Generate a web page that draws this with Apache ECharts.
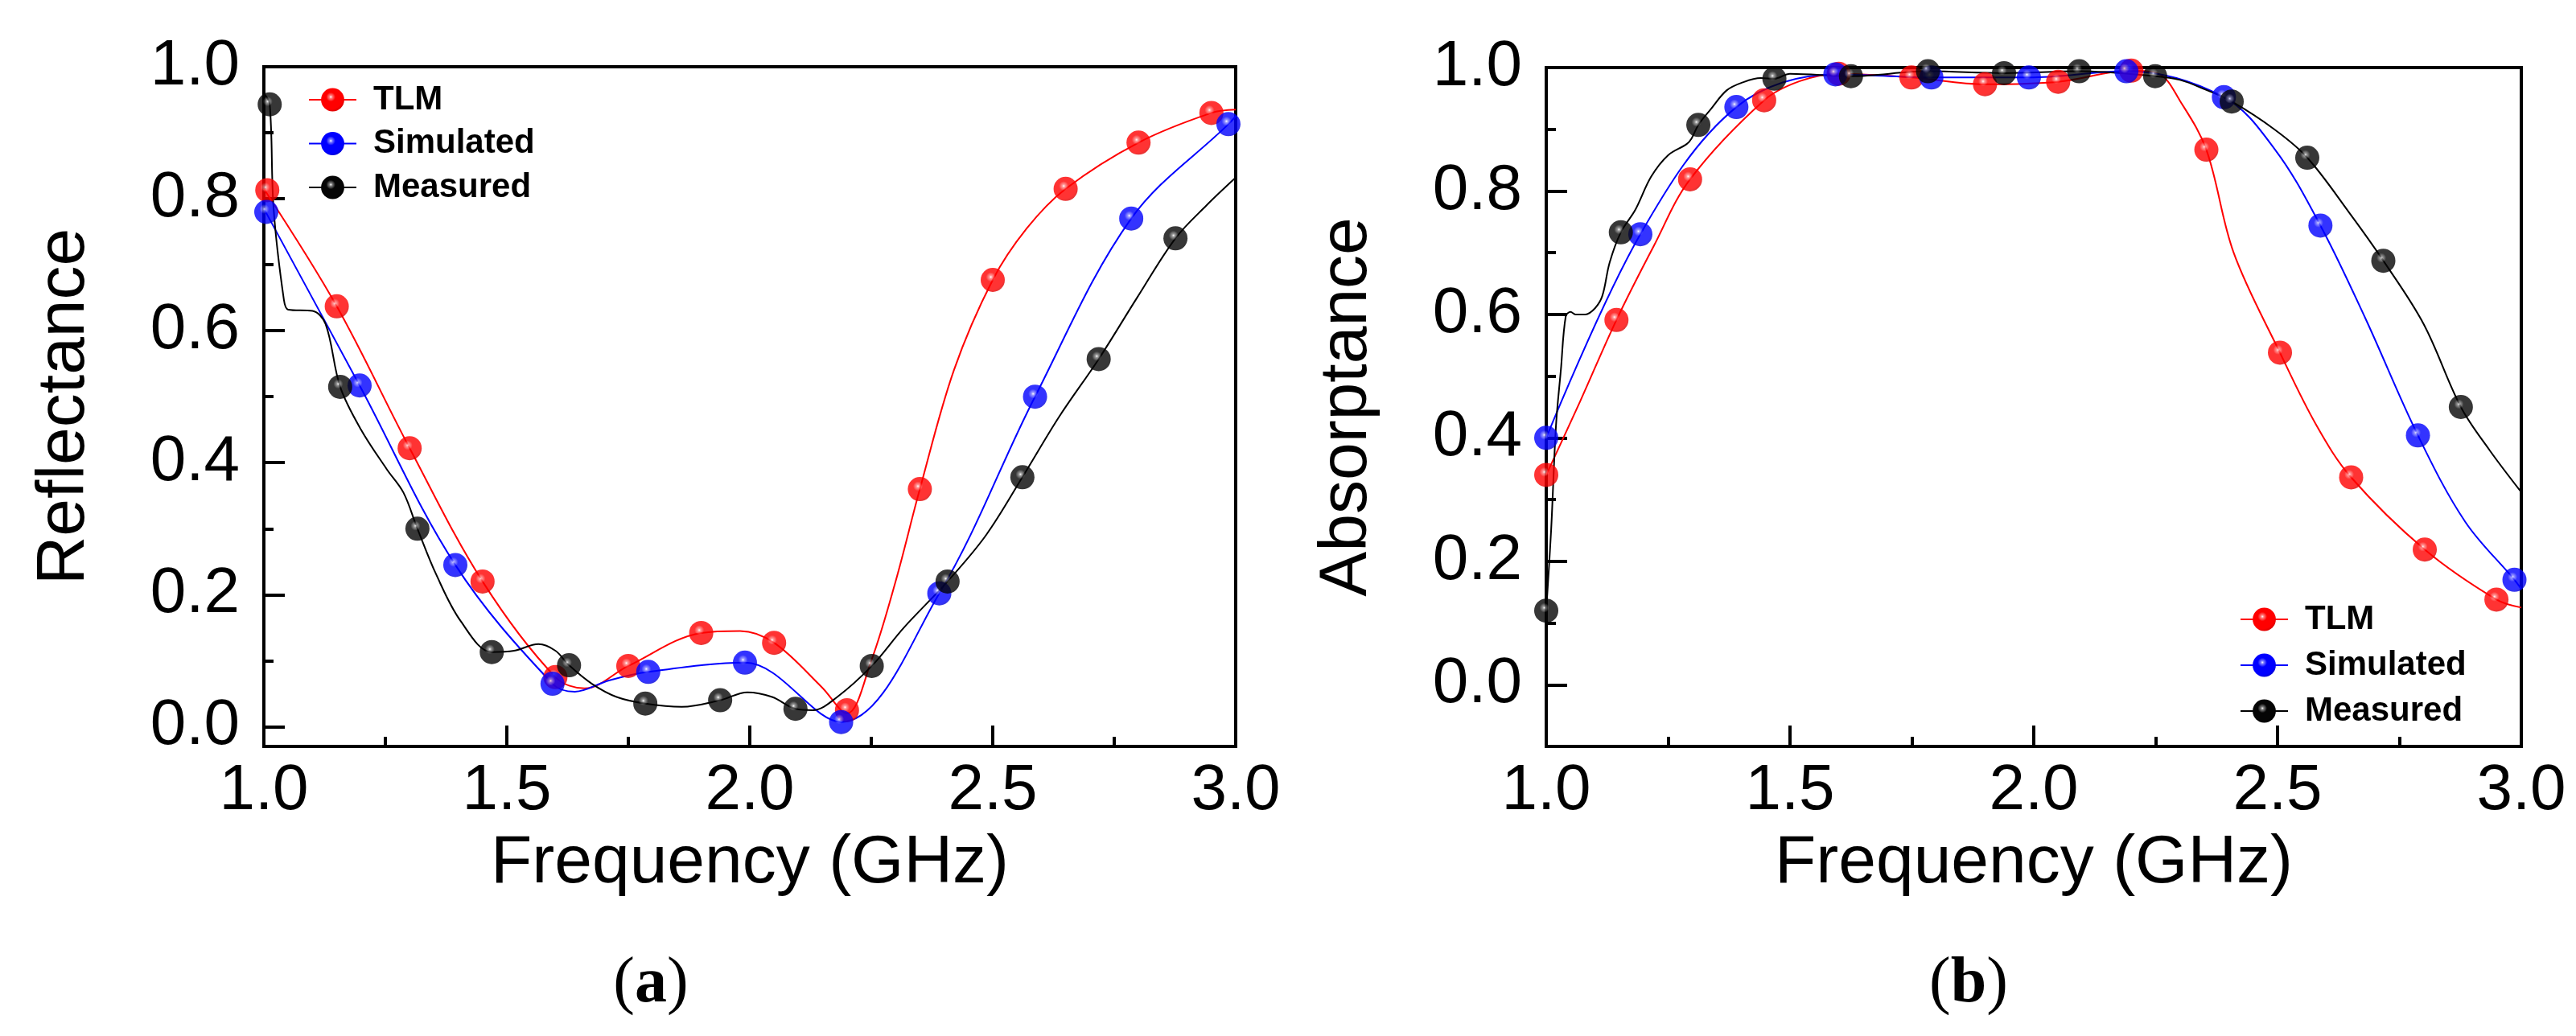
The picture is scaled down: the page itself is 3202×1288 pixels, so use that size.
<!DOCTYPE html>
<html>
<head>
<meta charset="utf-8">
<script src="https://cdn.jsdelivr.net/npm/echarts@6/dist/echarts.min.js"></script>
<style>
  html, body { margin: 0; padding: 0; background: #fff; }
  #chart { width: 3202px; height: 1288px; }
</style>
</head>
<body>
<div id="chart"></div>
<script>
// ---- (a) Reflectance : markers ----
const tlmAx = [1.007, 1.15, 1.3, 1.45, 1.6, 1.75, 1.9, 2.05, 2.2, 2.35, 2.5, 2.65, 2.8, 2.95]
const tlmAy = [0.813, 0.637, 0.422, 0.22, 0.075, 0.092, 0.142, 0.127, 0.025, 0.36, 0.677, 0.815, 0.885, 0.93]
const simAx = [1.005, 1.197, 1.394, 1.594, 1.791, 1.99, 2.188, 2.39, 2.587, 2.785, 2.985]
const simAy = [0.78, 0.517, 0.245, 0.065, 0.083, 0.097, 0.007, 0.202, 0.5, 0.77, 0.913]
const meaAx = [1.012, 1.157, 1.316, 1.469, 1.628, 1.785, 1.939, 2.094, 2.251, 2.407, 2.561, 2.718, 2.876]
const meaAy = [0.943, 0.515, 0.3, 0.113, 0.093, 0.035, 0.04, 0.027, 0.092, 0.22, 0.378, 0.557, 0.74]

// ---- (a) Reflectance : curves ----
const tlmAcx = [1.0, 1.15, 1.3, 1.45, 1.6, 1.66, 1.75, 1.9, 1.98, 2.05, 2.148, 2.2, 2.25, 2.3, 2.35, 2.42, 2.5, 2.57, 2.65, 2.8, 2.95, 3.0]
const tlmAcy = [0.815, 0.637, 0.422, 0.22, 0.075, 0.058, 0.092, 0.142, 0.145, 0.127, 0.06, 0.02, 0.1, 0.22, 0.36, 0.54, 0.677, 0.755, 0.815, 0.885, 0.93, 0.935]
const simAcx = [1.0, 1.197, 1.394, 1.594, 1.64, 1.71, 1.791, 1.99, 2.188, 2.39, 2.587, 2.785, 2.985, 3.0]
const simAcy = [0.785, 0.517, 0.245, 0.065, 0.053, 0.07, 0.083, 0.097, 0.007, 0.202, 0.5, 0.77, 0.913, 0.925]
const meaAcx = [1.0, 1.012, 1.02, 1.041, 1.05, 1.1, 1.127, 1.157, 1.2, 1.253, 1.287, 1.316, 1.355, 1.405, 1.469, 1.515, 1.565, 1.6, 1.628, 1.675, 1.726, 1.785, 1.86, 1.939, 1.995, 2.046, 2.094, 2.13, 2.18, 2.251, 2.317, 2.407, 2.486, 2.561, 2.637, 2.718, 2.797, 2.876, 2.94, 3.0]
const meaAcy = [0.96, 0.943, 0.785, 0.648, 0.632, 0.63, 0.61, 0.515, 0.45, 0.39, 0.355, 0.3, 0.23, 0.16, 0.113, 0.115, 0.125, 0.115, 0.093, 0.065, 0.045, 0.035, 0.03, 0.04, 0.052, 0.045, 0.027, 0.025, 0.045, 0.092, 0.15, 0.22, 0.29, 0.378, 0.47, 0.557, 0.65, 0.74, 0.79, 0.832]

// ---- (b) Absorptance : markers ----
const tlmBx = [1.0, 1.144, 1.295, 1.447, 1.6, 1.749, 1.9, 2.05, 2.2, 2.354, 2.505, 2.651, 2.802, 2.949]
const tlmBy = [0.34, 0.591, 0.819, 0.947, 0.99, 0.984, 0.973, 0.977, 0.995, 0.867, 0.538, 0.336, 0.219, 0.138]
const simBx = [1.0, 1.193, 1.39, 1.593, 1.79, 1.99, 2.19, 2.39, 2.588, 2.788, 2.986]
const simBy = [0.4, 0.73, 0.936, 0.989, 0.984, 0.984, 0.994, 0.952, 0.744, 0.404, 0.17]
const meaBx = [1.0, 1.153, 1.312, 1.468, 1.625, 1.783, 1.939, 2.093, 2.249, 2.406, 2.561, 2.717, 2.876]
const meaBy = [0.12, 0.733, 0.907, 0.982, 0.986, 0.994, 0.991, 0.994, 0.986, 0.945, 0.854, 0.687, 0.45]

// ---- (b) Absorptance : curves ----
const tlmBcx = [1.0, 1.07, 1.144, 1.22, 1.295, 1.447, 1.52, 1.6, 1.749, 1.9, 2.05, 2.2, 2.258, 2.3, 2.354, 2.41, 2.505, 2.58, 2.651, 2.802, 2.949, 3.0]
const tlmBcy = [0.34, 0.46, 0.591, 0.71, 0.819, 0.947, 0.978, 0.99, 0.984, 0.973, 0.977, 0.995, 0.989, 0.946, 0.867, 0.7, 0.538, 0.42, 0.336, 0.219, 0.138, 0.125]
const simBcx = [1.0, 1.193, 1.39, 1.593, 1.79, 1.99, 2.19, 2.39, 2.495, 2.588, 2.68, 2.788, 2.885, 2.986, 3.0]
const simBcy = [0.4, 0.73, 0.936, 0.989, 0.984, 0.984, 0.994, 0.952, 0.867, 0.744, 0.594, 0.404, 0.264, 0.17, 0.155]
const meaBcx = [1.0, 1.01, 1.02, 1.03, 1.04, 1.05, 1.06, 1.08, 1.1, 1.115, 1.13, 1.153, 1.183, 1.215, 1.25, 1.288, 1.298, 1.312, 1.337, 1.37, 1.403, 1.44, 1.468, 1.5, 1.625, 1.783, 1.939, 2.093, 2.249, 2.3, 2.35, 2.406, 2.495, 2.561, 2.647, 2.717, 2.8, 2.876, 2.935, 3.0]
const meaBcy = [0.12, 0.25, 0.42, 0.51, 0.597, 0.604, 0.6, 0.6, 0.61, 0.63, 0.684, 0.733, 0.77, 0.823, 0.858, 0.876, 0.885, 0.907, 0.932, 0.963, 0.976, 0.983, 0.982, 0.99, 0.986, 0.994, 0.991, 0.994, 0.986, 0.98, 0.965, 0.945, 0.899, 0.854, 0.765, 0.687, 0.584, 0.45, 0.38, 0.312]

// axis ticks
const xMajor = 0.5
const yMajorVals = [0, 0.2, 0.4, 0.6, 0.8, 1.0]
const yMinorVals = [0.1, 0.3, 0.5, 0.7, 0.9]
const names = ['TLM', 'Simulated', 'Measured']

const FONT = 'Liberation Sans, Arial, sans-serif'
const zip = (xs, ys) => xs.map((x, i) => [x, ys[i]])

// shaded ball, small highlight up-left of centre
const ball = (hl, c, dark) => new echarts.graphic.RadialGradient(0.42, 0.38, 0.62, [
  { offset: 0, color: '#ffffff' },
  { offset: 0.1, color: hl },
  { offset: 0.32, color: c },
  { offset: 0.85, color: c },
  { offset: 1, color: dark }
])
const lineColors = ['#ff0000', '#0000ff', '#000000']
const balls = [
  ball('#ff8080', '#ff0000', '#e00000'),
  ball('#8080ff', '#0000ff', '#0000dd'),
  ball('#808080', '#050505', '#000000')
]

const chart = echarts.init(document.getElementById('chart'))

const xAxisOf = (gi) => ({
  gridIndex: gi,
  type: 'value',
  min: 1,
  max: 3,
  interval: xMajor,
  axisLine: { onZero: false, lineStyle: { color: '#000', width: 4 } },
  axisTick: { inside: true, length: 26, lineStyle: { color: '#000', width: 4 } },
  minorTick: { show: true, splitNumber: 2, length: 12, lineStyle: { color: '#000', width: 4 } },
  axisLabel: { fontSize: 80, fontFamily: FONT, color: '#000', margin: 16, formatter: v => v.toFixed(1) },
  splitLine: { show: false },
  minorSplitLine: { show: false },
  name: 'Frequency (GHz)',
  nameLocation: 'middle',
  nameGap: 104,
  nameMoveOverlap: false,
  nameTextStyle: { fontSize: 84, fontFamily: FONT, color: '#000', lineHeight: 84 }
})

const yAxesOf = (gi, min, title) => [
  {
    gridIndex: gi,
    type: 'value',
    min: min,
    max: 1.0,
    axisLine: { show: true, onZero: false, lineStyle: { color: '#000', width: 4 } },
    axisTick: { inside: true, length: 26, lineStyle: { color: '#000', width: 4 }, customValues: yMajorVals },
    axisLabel: { fontSize: 80, fontFamily: FONT, color: '#000', margin: 30, customValues: yMajorVals, formatter: v => v.toFixed(1) },
    splitLine: { show: false },
    name: title,
    nameLocation: 'middle',
    nameGap: 205,
    nameMoveOverlap: false,
    nameTextStyle: { fontSize: 84, fontFamily: FONT, color: '#000', lineHeight: 84 }
  },
  {
    gridIndex: gi,
    type: 'value',
    position: 'left',
    min: min,
    max: 1.0,
    axisLine: { show: false, onZero: false },
    axisTick: { show: true, inside: true, length: 12, lineStyle: { color: '#000', width: 4 }, customValues: yMinorVals },
    axisLabel: { show: false, customValues: yMinorVals },
    splitLine: { show: false }
  }
]

const curveSeries = (i, data, xi, yi) => ({
  name: names[i],
  type: 'line',
  xAxisIndex: xi,
  yAxisIndex: yi,
  data: data,
  smooth: 0.35,
  symbol: 'none',
  lineStyle: { color: lineColors[i], width: 2 },
  itemStyle: { color: balls[i] },
  z: 2
})
const markSeries = (i, data, xi, yi) => ({
  name: names[i],
  type: 'scatter',
  xAxisIndex: xi,
  yAxisIndex: yi,
  data: data,
  symbol: 'circle',
  symbolSize: 30,
  itemStyle: { color: balls[i] },
  z: 3
})

const legendOf = (left, top, gap) => ({
  data: names,
  orient: 'vertical',
  left: left,
  top: top,
  padding: 0,
  itemWidth: 59,
  itemHeight: 36,
  itemGap: gap,
  selectedMode: false,
  textStyle: { fontSize: 42, fontWeight: 'bold', fontFamily: FONT, color: '#000', lineHeight: 44, padding: [0, 0, 0, 16] }
})

const panelLabel = (x, letter) => ({
  type: 'text',
  x: x,
  y: 1224,
  style: {
    text: '{p|(}{b|' + letter + '}{p|)}',
    align: 'center',
    verticalAlign: 'middle',
    rich: {
      p: { fontSize: 80, fontFamily: 'Liberation Serif, Times New Roman, serif', fill: '#000' },
      b: { fontSize: 80, fontWeight: 'bold', fontFamily: 'Liberation Serif, Times New Roman, serif', fill: '#000' }
    }
  }
})

const option = {
  backgroundColor: '#fff',
  animation: false,
  grid: [
    { left: 328, top: 83, width: 1208, height: 845, show: true, borderColor: '#000', borderWidth: 4, backgroundColor: 'transparent', outerBoundsMode: 'none' },
    { left: 1922, top: 84, width: 1212, height: 844, show: true, borderColor: '#000', borderWidth: 4, backgroundColor: 'transparent', outerBoundsMode: 'none' }
  ],
  xAxis: [xAxisOf(0), xAxisOf(1)],
  yAxis: [...yAxesOf(0, -0.03, 'Reflectance'), ...yAxesOf(1, -0.1, 'Absorptance')],
  legend: [legendOf(383, 102, 10.5), legendOf(2784, 748, 13)],
  series: [
    curveSeries(0, zip(tlmAcx, tlmAcy), 0, 0),
    curveSeries(1, zip(simAcx, simAcy), 0, 0),
    curveSeries(2, zip(meaAcx, meaAcy), 0, 0),
    curveSeries(0, zip(tlmBcx, tlmBcy), 1, 2),
    curveSeries(1, zip(simBcx, simBcy), 1, 2),
    curveSeries(2, zip(meaBcx, meaBcy), 1, 2),
    markSeries(0, zip(tlmAx, tlmAy), 0, 0),
    markSeries(1, zip(simAx, simAy), 0, 0),
    markSeries(2, zip(meaAx, meaAy), 0, 0),
    markSeries(0, zip(tlmBx, tlmBy), 1, 2),
    markSeries(1, zip(simBx, simBy), 1, 2),
    markSeries(2, zip(meaBx, meaBy), 1, 2)
  ],
  graphic: [panelLabel(809, 'a'), panelLabel(2447, 'b')]
}

chart.setOption(option)
</script>
</body>
</html>
